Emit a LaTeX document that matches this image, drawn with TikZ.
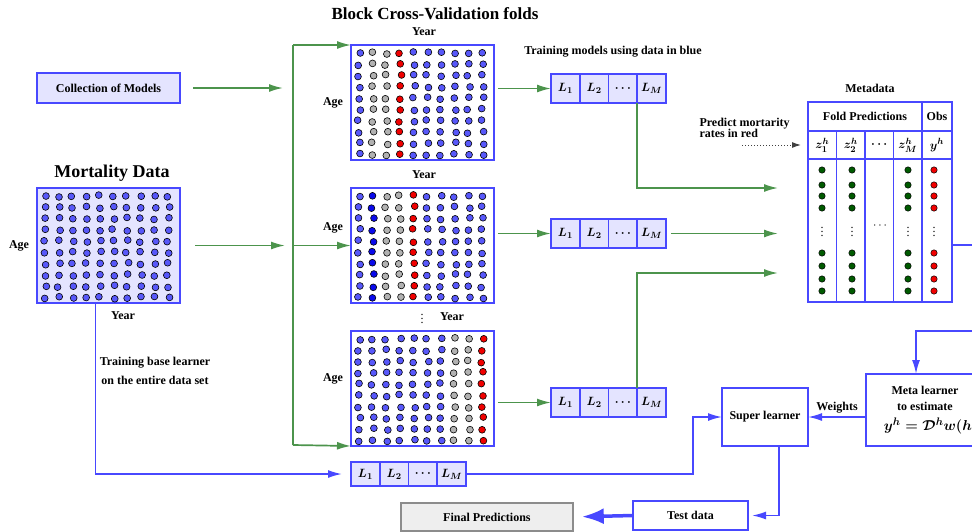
\documentclass[tikz,border=0pt]{standalone}
\usepackage{fontspec}
\setmainfont{Liberation Serif}
\usepackage{tikz}
\usetikzlibrary{calc}
\usetikzlibrary{positioning}
\usetikzlibrary{arrows.meta}

\definecolor{boxblue}{RGB}{72,72,255}
\definecolor{boxfill}{RGB}{228,228,255}
\definecolor{flowgreen}{RGB}{76,148,76}
\definecolor{dotblue}{RGB}{88,88,250}
\definecolor{dotdark}{RGB}{10,10,235}
\definecolor{dotgray}{RGB}{178,178,178}
\definecolor{dotred}{RGB}{240,0,0}
\definecolor{dotgreen}{RGB}{0,90,0}
\definecolor{finalgray}{RGB}{238,238,238}

% ten columns of ten points, a little jitter
\newcommand\dotgrid[3]{%
  \foreach \c [count=\i from 0] in {#3} {
    \foreach \j in {0,...,9} {
      \pgfmathsetmacro\dx{#1+8+13.7*\i+1.5*rand}
      \pgfmathsetmacro\dy{#2+8+11.3*\j+1.2*rand}
      \filldraw[fill=\c, draw=black, line width=0.6pt] (\dx,\dy) circle (3.4pt);
    }
  }
}

% base learners L_1 ... L_M in a row
\newcommand\learners[4]{%
  \node at (#2,#3) [cell, minimum height=#4, anchor=north west] (#1a) {$L_1$};
  \node [cell, minimum height=#4, right=0pt of #1a] (#1b) {$L_2$};
  \node [cell, minimum height=#4, right=0pt of #1b] (#1c) {$\cdots$};
  \node [cell, minimum height=#4, right=0pt of #1c] (#1d) {$L_M$};
}

\begin{document}
\begin{tikzpicture}[x=1pt, y=-1pt, >={Latex[length=14pt,width=8pt]},
  lbl/.style={font=\fontsize{12}{13}\selectfont\bfseries},
  ttl/.style={font=\fontsize{17}{20}\selectfont\bfseries},
  foldbox/.style={rectangle, draw=boxblue, line width=1.8pt, inner sep=0pt, outer sep=0pt, minimum width=143pt, minimum height=115pt, anchor=north west},
  cell/.style={rectangle, draw=boxblue, line width=1.6pt, fill=boxfill, minimum width=28.75pt, inner sep=0pt, outer sep=0pt, font=\fontsize{13}{15}\selectfont\boldmath},
  tcell/.style={rectangle, draw=boxblue, line width=1.6pt, inner sep=0pt, outer sep=0pt, anchor=north west, font=\fontsize{13}{15}\selectfont\boldmath},
  plain box/.style={rectangle, draw=boxblue, line width=1.8pt, fill=white, inner sep=0pt, outer sep=0pt, anchor=north west},
  flow/.style={draw=flowgreen, line width=1.7pt},
  link/.style={draw=boxblue, line width=1.7pt}]

\useasboundingbox (0,0) rectangle (972,531);
\clip (0,0) rectangle (972,531);
\pgfmathsetseed{11}

%% left side: models and data
\node at (37,73) [plain box, fill=boxfill, minimum width=143pt, minimum height=30pt, lbl] (coll) {Collection of Models};

\node at (37,188) [foldbox, fill=boxfill] (mort) {};
\dotgrid{37}{188}{dotblue,dotblue,dotblue,dotblue,dotblue,dotblue,dotblue,dotblue,dotblue,dotblue}
\node at (112,173) [font=\fontsize{18}{20}\selectfont\bfseries] (morttitle) {Mortality Data};
\node at (19,246) [lbl] (mortage) {Age};
\node at (123,316) [lbl] (mortyear) {Year};

\node at (155,371) [align=center, font=\fontsize{12}{19}\selectfont\bfseries] (baselbl) {Training base learner\\on the entire data set};

%% the folds
\node at (435,14) [ttl] (foldtitle) {Block Cross-Validation folds};

\node at (351,45) [foldbox] (foldA) {};
\dotgrid{351}{45}{dotblue,dotgray,dotgray,dotred,dotblue,dotblue,dotblue,dotblue,dotblue,dotblue}
\node at (424,32) [lbl] (yearA) {Year};
\node at (333,103) [lbl] (ageA) {Age};

\node at (351,188) [foldbox] (foldB) {};
\dotgrid{351}{188}{dotblue,dotdark,dotgray,dotgray,dotred,dotblue,dotblue,dotblue,dotblue,dotblue}
\node at (424,175) [lbl] (yearB) {Year};
\node at (333,228) [lbl] (ageB) {Age};

\node at (351,331) [foldbox] (foldC) {};
\dotgrid{351}{331}{dotblue,dotblue,dotblue,dotblue,dotblue,dotblue,dotblue,dotgray,dotgray,dotred}
\node at (452,317) [lbl] (yearC) {Year};
\node at (422,316) [font=\fontsize{12}{13}\selectfont] (morefolds) {$\vdots$};
\node at (333,379) [lbl] (ageC) {Age};

%% learners
\node at (613,52) [lbl] (trainlbl) {Training models using data in blue};
\learners{lA}{551}{74}{29pt}
\learners{lB}{551}{219}{29pt}
\learners{lC}{551}{388}{29pt}
\learners{lF}{351}{462}{24pt}

%% metadata table
\node at (870,88) [lbl] (metatitle) {Metadata};
\node at (808,102) [tcell, minimum width=114pt, minimum height=29pt, lbl] (fold) {Fold Predictions};
\node at (922,102) [tcell, minimum width=30pt, minimum height=29pt, lbl] (obs) {Obs};
\foreach \t/\w/\xx [count=\k] in {z_1^h/28.5/808, z_2^h/28.5/836.5, \cdots/28.5/865, z_M^h/28.5/893.5, y^h/30/922} {
  \node at (\xx,131) [tcell, minimum width=\w pt, minimum height=28pt] (zc\k) {$\t$};
  \node at (\xx,159) [tcell, minimum width=\w pt, minimum height=143pt] (dc\k) {};
}
\foreach \yy in {170,185,196,208,253,266,279,291} {
  \foreach \xx/\cc in {822/dotgreen, 852/dotgreen, 908/dotgreen, 934/dotred} {
    \filldraw[fill=\cc, draw=black, line width=0.5pt] (\xx,\yy) circle (3.2pt);
  }
}
\foreach \xx in {822,852,908,934} {
  \node at (\xx,229) [font=\fontsize{12}{13}\selectfont] {$\vdots$};
}
\node at (880,226) [font=\fontsize{12}{13}\selectfont] (colgap) {$\cdots$};

\node at (696,127.5) [anchor=west, align=left, font=\fontsize{12}{11}\selectfont\bfseries] (predlbl) {Predict mortarity\\rates in red};

%% meta learner, super learner, outputs
\node at (866,374) [plain box, minimum width=118pt, minimum height=72pt, align=center, font=\fontsize{12}{16}\selectfont\bfseries] (meta) {Meta learner\\to estimate\\[4pt]\hspace*{12pt}{\fontsize{15}{17}\selectfont\boldmath$y^h=\mathcal{D}^h w(h)$}};
\node at (722,388) [plain box, minimum width=86pt, minimum height=58pt, lbl] (super) {Super learner};
\node at (633,501) [plain box, minimum width=115pt, minimum height=29pt, lbl] (test) {Test data};
\node at (400,502) [rectangle, draw=black!45, fill=finalgray, line width=1.8pt, anchor=north west, minimum width=172pt, minimum height=28pt, lbl] (final) {Final Predictions};

%% connectors
\coordinate (busTop) at (293,45);
\coordinate (busBot) at (293,445);
\coordinate (inA) at (778,188);
\coordinate (inC) at (778,273);
\coordinate (turn) at (693,445);
\coordinate (loopR) at (995,331);

\draw[flow,->,shorten <=13pt,shorten >=10pt] (coll.east) -- (coll.east -| busTop);
\draw[flow,->,shorten <=15pt,shorten >=8pt] (mort.east) -- (mort.east -| busTop);
\draw[flow] (busTop) -- (busBot);
\draw[flow,->] (busTop) -- (foldA.north west);
\draw[flow,->] (busTop |- foldB.west) -- (foldB.west);
\draw[flow,->] (busBot) -- (foldC.south west);

\draw[flow,->,shorten <=4pt] (foldA.east |- lAa.west) -- (lAa.west);
\draw[flow,->,shorten <=4pt] (foldB.east |- lBa.west) -- (lBa.west);
\draw[flow,->,shorten <=4pt] (foldC.east |- lCa.west) -- (lCa.west);

\draw[flow,->] (lAd.south west) |- (inA);
\draw[flow,->,shorten <=5pt] (lBd.east) -- (lBd.east -| inA);
\draw[flow,->] (lCd.north west) |- (inC);

\draw[dotted, line width=1pt, draw=black!75, -{Latex[length=9pt,width=6pt]}, shorten >=7pt] ([xshift=-66pt]zc1.west) -- (zc1.west);

\draw[link,->,shorten >=9pt] ([xshift=-13pt]mort.south) |- (lFa.west);
\draw[link,->] (lFd.east) -| (turn) |- (super.west);
\draw[link,->] (meta.west |- super.east) -- (super.east) node[midway, above, lbl] (wlbl) {Weights};
\draw[link,->] ($(dc5.east)+(0,14.5)$) -| (loopR) -| ([xshift=-9pt]meta.north);
\draw[link,->,shorten >=4pt] ([xshift=14pt]super.south) |- (test.east);
\draw[draw=boxblue, line width=3.5pt, -{Latex[length=22pt,width=16pt]}, shorten >=8pt] (test.west) -- (final.east);

\end{tikzpicture}
\end{document}
